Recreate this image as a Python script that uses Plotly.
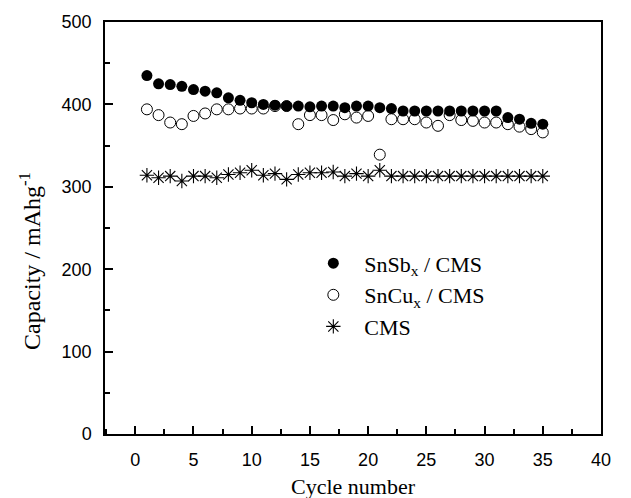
import plotly.graph_objects as go

cycles = list(range(1, 36))
snsb_cms = [435, 425, 424, 422, 418, 416, 414, 408, 405, 402,
            400, 399, 398, 398, 397, 398, 398, 396, 398, 398,
            396, 395, 392, 392, 392, 392, 392, 392, 392, 392,
            392, 384, 382, 377, 376]
sncu_cms = [394, 387, 378, 376, 386, 389, 394, 394, 395, 395,
            395, 398, 398, 376, 387, 387, 381, 388, 384, 386,
            339, 382, 382, 382, 378, 374, 387, 381, 380, 378,
            378, 376, 373, 370, 366]
cms = [314, 311, 313, 307, 313, 313, 311, 315, 317, 320,
       314, 316, 309, 315, 317, 317, 318, 313, 316, 313,
       320, 313, 313, 313, 313, 313, 313, 313, 313, 313,
       313, 313, 313, 313, 313]

x_ticks = [0, 5, 10, 15, 20, 25, 30, 35, 40]
y_ticks = [0, 100, 200, 300, 400, 500]

serif = "Liberation Serif"
sans = "Liberation Sans"
pad = "\u00a0\u00a0"

fig = go.Figure()
fig.add_trace(go.Scatter(x=cycles, y=snsb_cms, mode="markers", name=pad + "SnSb<sub>x</sub> / CMS",
                         marker=dict(symbol="circle", size=11, color="black")))
fig.add_trace(go.Scatter(x=cycles, y=sncu_cms, mode="markers", name=pad + "SnCu<sub>x</sub> / CMS",
                         marker=dict(symbol="circle-open", size=11, color="black", line=dict(width=1))))
fig.add_trace(go.Scatter(x=cycles, y=cms, mode="markers", name=pad + "CMS",
                         marker=dict(symbol="asterisk-open", size=12, color="black", line=dict(width=1.1, color="black"))))

axis_common = dict(showline=True, linecolor="black", linewidth=1.5, mirror=True,
                   ticks="inside", tickcolor="black", tickwidth=1.5, ticklen=8,
                   showgrid=False, zeroline=False,
                   tickfont=dict(family=sans, size=18, color="black"))

fig.update_xaxes(range=[-2.6, 40], tickvals=x_ticks, ticktext=[str(v) for v in x_ticks],
                 minor=dict(ticks="inside", dtick=2.5, tick0=0, ticklen=5, tickwidth=1.5, tickcolor="black"),
                 ticklabelstandoff=9, **axis_common)
fig.update_yaxes(range=[0, 500], tickvals=y_ticks, ticktext=[str(v) for v in y_ticks],
                 minor=dict(ticks="inside", dtick=50, tick0=0, ticklen=5, tickwidth=1.5, tickcolor="black"),
                 ticklabelstandoff=8, **axis_common)

fig.update_layout(
    width=631, height=498,
    margin=dict(l=105, r=30, t=17, b=64),
    paper_bgcolor="white", plot_bgcolor="white",
    showlegend=True,
    legend=dict(x=0.42, y=0.465, xanchor="left", yanchor="top",
                font=dict(family=serif, size=22, color="black"),
                bgcolor="rgba(0,0,0,0)", tracegroupgap=0, itemsizing="trace"),
    annotations=[
        dict(text="Cycle number", xref="paper", yref="paper", x=0.5, y=0, yshift=-52,
             xanchor="center", yanchor="middle", showarrow=False,
             font=dict(family=serif, size=22, color="black")),
        dict(text="Capacity / mAhg<sup>-1</sup>", xref="paper", yref="paper", x=0, xshift=-75,
             y=0.42, xanchor="center", yanchor="middle", textangle=-90, showarrow=False,
             font=dict(family=serif, size=24, color="black")),
    ],
)

fig.write_html("out.html")
